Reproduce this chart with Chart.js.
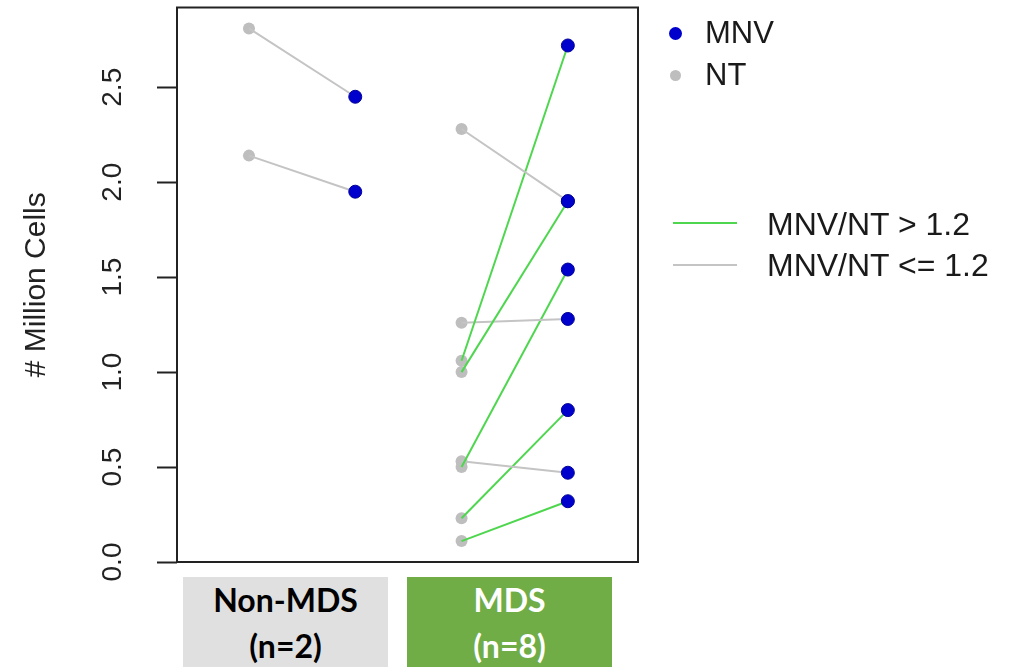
<!doctype html>
<html>
  <head>
    <meta charset="UTF-8">
    <title>MNV vs NT</title>
    <style>
      body { margin: 0; background: #fff; font-family: "Liberation Sans", Arial, sans-serif; }
      #wrap { position: relative; width: 1015px; height: 667px; overflow: hidden; }
      #chart-box { position: absolute; left: 0; top: 0; width: 1015px; height: 667px; }
      .leg { position: absolute; color: #1a1a1a; font-size: 31px; line-height: 40px; white-space: nowrap; }
      .dot { position: absolute; border-radius: 50%; }
      .ln { position: absolute; height: 2px; }
      .grp { position: absolute; top: 577px; height: 100px; text-align: center;
             font-family: Lato, "Open Sans", sans-serif; font-weight: bold; font-size: 32px; line-height: 46px; }
    </style>
  </head>
  <body>
    <div id="wrap">
      <div id="chart-box"><canvas id="myChart"></canvas></div>

      <!-- point legend -->
      <div class="dot" style="left:669px;top:27px;width:13px;height:13px;background:#0000cc;"></div>
      <div class="leg" style="left:705px;top:13px;">MNV</div>
      <div class="dot" style="left:670px;top:70px;width:11px;height:11px;background:#bebebe;"></div>
      <div class="leg" style="left:705px;top:55px;">NT</div>

      <!-- line legend -->
      <div class="ln" style="left:673px;top:222px;width:64px;background:#4fd64f;"></div>
      <div class="leg" style="left:767px;top:204px;font-size:32px;">MNV/NT &gt; 1.2</div>
      <div class="ln" style="left:673px;top:264px;width:64px;background:#c4c4c4;"></div>
      <div class="leg" style="left:767px;top:245px;font-size:32px;">MNV/NT &lt;= 1.2</div>

      <div id="groups"></div>
    </div>

    <script src="https://cdn.jsdelivr.net/npm/chart.js"></script>
    <script>
      // groups and samples (values in million cells)
      var groups = ['Non-MDS', 'MDS'];
      var groupColors = ['#e0e0e0', '#70ad47'];
      var groupTextColors = ['#000', '#fff'];
      var sampleGroup = [0, 0, 1, 1, 1, 1, 1, 1, 1, 1];
      var ntValues  = [2.81, 2.14, 2.28, 1.06, 1.00, 1.26, 0.50, 0.53, 0.23, 0.11];
      var mnvValues = [2.45, 1.95, 1.90, 2.72, 1.90, 1.28, 1.54, 0.47, 0.80, 0.32];
      var ratioCut = 1.2;
      var yTicks = [0, 0.5, 1.0, 1.5, 2.0, 2.5];

      // x slot of NT / MNV column for each group
      var ntSlot = [1, 3];
      var mnvSlot = [2, 4];

      var ntPts = [], mnvPts = [], pairSets = [];
      for (let i = 0; i < ntValues.length; i++) {
        let g = sampleGroup[i];
        let a = {x: ntSlot[g], y: ntValues[i]};
        let b = {x: mnvSlot[g], y: mnvValues[i]};
        ntPts.push(a);
        mnvPts.push(b);
        let up = mnvValues[i] / ntValues[i] > ratioCut;
        pairSets.push({
          data: [a, b],
          showLine: true,
          borderColor: up ? '#4fd64f' : '#c4c4c4',
          borderWidth: 2,
          pointRadius: 0,
          order: 1
        });
      }

      // group boxes under the plot
      var boxLeft = [183, 407];
      groups.forEach(function (name, g) {
        let n = sampleGroup.filter(function (s) { return s === g; }).length;
        let d = document.createElement('div');
        d.className = 'grp';
        d.style.left = boxLeft[g] + 'px';
        d.style.width = '205px';
        d.style.background = groupColors[g];
        d.style.color = groupTextColors[g];
        d.innerHTML = name + '<br>(n=' + n + ')';
        document.getElementById('groups').appendChild(d);
      });

      // black frame round the plot area
      var frame = {
        id: 'frame',
        afterDraw: function (chart) {
          let c = chart.ctx, a = chart.chartArea;
          c.save();
          c.strokeStyle = '#222';
          c.lineWidth = 2;
          c.strokeRect(a.left, a.top, a.right - a.left, a.bottom - a.top);
          c.restore();
        }
      };

      var ctx = document.getElementById('myChart');
      new Chart(ctx, {
        type: 'scatter',
        data: {
          datasets: [
            {label: 'MNV', data: mnvPts, pointRadius: 6.5, pointBackgroundColor: '#0000cc',
             pointBorderColor: '#00009a', pointBorderWidth: 1, order: 0},
            {label: 'NT', data: ntPts, pointRadius: 6, pointBackgroundColor: '#bebebe',
             pointBorderColor: '#bebebe', pointBorderWidth: 0, order: 2}
          ].concat(pairSets)
        },
        options: {
          responsive: true,
          maintainAspectRatio: false,
          animation: false,
          layout: {padding: {left: 0, top: 6, right: 377, bottom: 105}},
          plugins: {legend: {display: false}, tooltip: {enabled: false}},
          scales: {
            x: {type: 'linear', min: 0.323, max: 4.66, display: false},
            y: {
              type: 'linear', min: 0, max: 2.92,
              afterBuildTicks: function (s) { s.ticks = yTicks.map(function (v) { return {value: v}; }); },
              afterFit: function (s) { s.width = 177; s.paddingTop = 0; s.paddingBottom = 0; },
              border: {display: false},
              grid: {drawOnChartArea: false, drawTicks: true, tickLength: 20, tickColor: '#222', tickWidth: 2},
              ticks: {
                minRotation: 90, maxRotation: 90, crossAlign: 'center', padding: 24,
                color: '#222', font: {family: 'Liberation Sans', size: 28},
                callback: function (v) { return v.toFixed(1); }
              },
              title: {display: true, text: '# Million Cells', color: '#222',
                      font: {family: 'Liberation Sans', size: 30}, padding: {top: 19, bottom: 0}}
            }
          }
        },
        plugins: [frame]
      });
    </script>
  </body>
</html>
